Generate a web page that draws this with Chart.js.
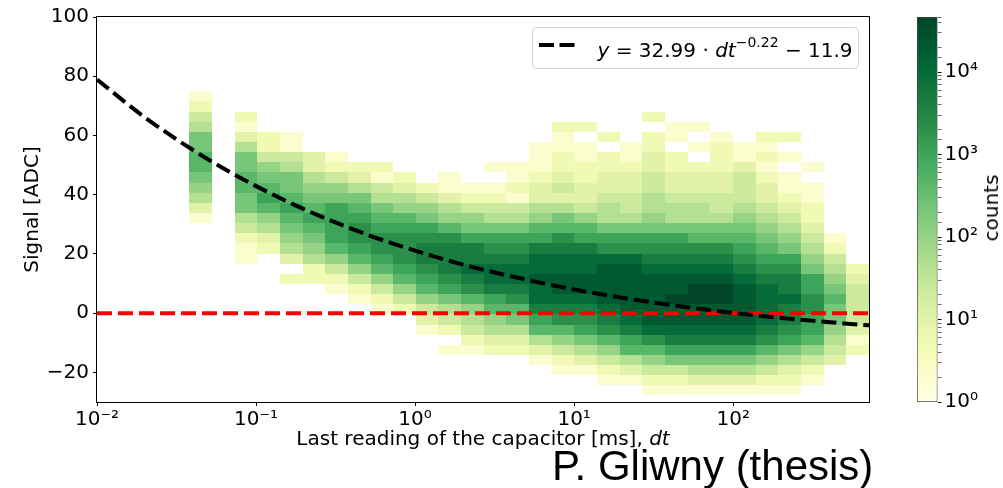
<!DOCTYPE html>
<html>
<head>
<meta charset="utf-8">
<title>Signal vs last capacitor reading</title>
<script src="https://cdn.jsdelivr.net/npm/chart.js@4.4.1/dist/chart.umd.min.js"></script>
<style>
  html, body { margin: 0; padding: 0; background: #fff; }
  #wrap { position: relative; width: 1003px; height: 488px; overflow: hidden; }
  #main { position: absolute; left: 0; top: 0; }
  #cbar { position: absolute; left: 900px; top: 0; }
  #counts { position: absolute; left: 991px; top: 208px; transform: translate(-50%, -50%) rotate(-90deg);
            font: 20px "DejaVu Sans"; white-space: nowrap; color: #000; }
  #credit { position: absolute; left: 552px; top: 445px; font: 42px/42px "Liberation Sans", Arial, sans-serif;
            white-space: nowrap; color: #000; }
</style>
</head>
<body>
<div id="wrap">
  <canvas id="main" width="1003" height="488"></canvas>
  <canvas id="cbar" width="103" height="488"></canvas>
  <div id="counts">counts</div>
  <div id="credit">P. Gliwny (thesis)</div>
</div>
<script>
// dt bin edges [ms], log spaced
const dtEdges = [0.0380, 0.0528, 0.0733, 0.1017, 0.1412, 0.1961, 0.2721, 0.3778, 0.5245, 0.7279,
  1.011, 1.403, 1.948, 2.704, 3.753, 5.211, 7.235, 10.04, 13.94, 19.35,
  26.87, 37.30, 51.78, 71.89, 99.77, 138.5, 192.3, 267.0, 370.6, 514.4, 714.2];
// signal bin edges [ADC]
const signalEdges = [-27.80, -24.38, -20.95, -17.53, -14.11, -10.68, -7.26, -3.84, -0.41, 3.01,
  6.43, 9.86, 13.28, 16.70, 20.13, 23.55, 26.97, 30.40, 33.82, 37.24,
  40.67, 44.09, 47.51, 50.94, 54.36, 57.78, 61.21, 64.63, 68.05, 71.48, 74.90];
// counts: one string per dt bin, signal bins read from the top edge (74.9) downwards.
// each char = log10(counts) in 1/3 decade steps (0-9, a-e), '.' = empty bin
const countLevels = [
  "1245778876531",
  "",
  "..213577887754211",
  "....224678986532",
  "....1145778987653.2",
  "......3356789876522",
  "......12467999986421",
  ".......235789aa986421",
  ".......2145789aa986421",
  "........235689aaa98642",
  ".........24679abba986431",
  "........113568abbba97542.1",
  ".........124679bbcba865421",
  ".......1.124579abccb986532",
  ".......11214579abccba87532",
  ".....1112335689bccdccb98531",
  "...21122343578abccddcba86421",
  "...2.1122334689bccddcba97531",
  "....2.223345579acddddcba86421",
  ".....1123344579acdddddcb98531",
  "..2.22334455679abcdddddca86421",
  "...11.223345579abcddeddcb97421",
  "...1.1.23345578abcdeeddcb97531",
  "....12223344578abcdeeddcb97531",
  ".....11344456789abcddddcb97531",
  "....2121233456789abccccba86421",
  "....2.1.112345679abbcbba975321",
  ".......1.11223456799aa9986421",
  "..............1245678776543",
  ".................234444312"
];
// fitted curve
const fitDt = [0.01, 0.02, 0.05, 0.1, 0.2, 0.5, 1, 2, 5, 10, 20, 50, 100, 200, 500, 714.2];
const fitSignal = [78.9, 66.1, 51.9, 42.9, 35.1, 26.5, 21.1, 16.4, 11.3, 8.0, 5.2, 2.1, 0.1, -1.6, -3.5, -4.1];
const zeroDt = [0.01, 714.2];
const zeroSignal = [0, 0];
const xTicks = [0.01, 0.1, 1, 10, 100];
const yTicks = [-20, 0, 20, 40, 60, 80, 100];
const countMax = 46416;

const counts = countLevels.map(col => [...col].map(ch => ch === '.' ? 0 : Math.round(Math.pow(10, parseInt(ch, 16) / 3))));

const YLGN = ['#ffffe5', '#f7fcb9', '#d9f0a3', '#addd8e', '#78c679', '#41ab5d', '#238443', '#006837', '#004529'];
const hexRgb = h => [1, 3, 5].map(i => parseInt(h.substr(i, 2), 16));

function countColor(n) {
  let t = Math.log10(n) / Math.log10(countMax);
  t = Math.max(0, Math.min(1, t)) * (YLGN.length - 1);
  const i = Math.min(Math.floor(t), YLGN.length - 2), f = t - i;
  const a = hexRgb(YLGN[i]), b = hexRgb(YLGN[i + 1]);
  return 'rgb(' + a.map((v, k) => Math.round(v + (b[k] - v) * f)).join(',') + ')';
}

const SUP = { '-': '⁻', '0': '⁰', '1': '¹', '2': '²', '3': '³', '4': '⁴', '5': '⁵' };
function pow10Label(v) {
  const l = Math.log10(v), p = Math.round(l);
  if (Math.abs(l - p) > 1e-6) return '';
  return '10' + String(p).split('').map(ch => SUP[ch]).join('');
}

Chart.defaults.font.family = '"DejaVu Sans", sans-serif';
Chart.defaults.font.size = 20;
Chart.defaults.color = '#000';

// 2d histogram cells, placed with the chart scales
const heatmap = {
  id: 'heatmap',
  beforeDatasetsDraw(chart) {
    const { ctx, chartArea: a, scales: { x, y } } = chart;
    const nY = signalEdges.length;
    ctx.save();
    ctx.beginPath();
    ctx.rect(a.left, a.top, a.width, a.height);
    ctx.clip();
    counts.forEach((col, c) => {
      const x0 = Math.round(x.getPixelForValue(dtEdges[c]));
      const x1 = Math.round(x.getPixelForValue(dtEdges[c + 1]));
      col.forEach((n, r) => {
        if (!n) return;
        const y0 = Math.round(y.getPixelForValue(signalEdges[nY - 1 - r]));
        const y1 = Math.round(y.getPixelForValue(signalEdges[nY - 2 - r]));
        ctx.fillStyle = countColor(n);
        ctx.fillRect(x0, y0, x1 - x0, y1 - y0);
      });
    });
    ctx.restore();
  }
};

const frame = {
  id: 'frame',
  afterDatasetsDraw(chart) {
    const { ctx, chartArea: a } = chart;
    ctx.save();
    ctx.strokeStyle = '#000';
    ctx.lineWidth = 1;
    ctx.strokeRect(Math.round(a.left) - 0.5, Math.round(a.top) - 0.5, Math.round(a.width) + 1, Math.round(a.height) + 1);
    ctx.restore();
  }
};

const fitLegend = {
  id: 'fitLegend',
  afterDraw(chart) {
    const { ctx, chartArea: a } = chart;
    const w = 326, h = 41;
    const bx = Math.round(a.right - 11 - w) + 0.5, by = Math.round(a.top + 10) + 0.5;
    ctx.save();
    ctx.beginPath();
    ctx.roundRect(bx, by, w, h, 4);
    ctx.fillStyle = 'rgba(255,255,255,0.8)';
    ctx.fill();
    ctx.strokeStyle = '#d4d4d4';
    ctx.lineWidth = 1;
    ctx.stroke();

    ctx.setLineDash([15, 5.5]);
    ctx.lineWidth = 4;
    ctx.strokeStyle = '#000';
    ctx.beginPath();
    ctx.moveTo(bx + 6.5, by + 17.5);
    ctx.lineTo(bx + 44, by + 17.5);
    ctx.stroke();
    ctx.setLineDash([]);

    const parts = [
      ['italic 20px "DejaVu Sans"', 'y', 0],
      ['20px "DejaVu Sans"', ' = 32.99 · ', 0],
      ['italic 20px "DejaVu Sans"', 'dt', 0],
      ['14px "DejaVu Sans"', '−0.22', -10],
      ['20px "DejaVu Sans"', ' − 11.9', 0]
    ];
    let tx = bx + 65;
    const base = by + 29;
    ctx.fillStyle = '#000';
    ctx.textBaseline = 'alphabetic';
    parts.forEach(([font, text, dy]) => {
      ctx.font = font;
      ctx.fillText(text, tx, base + dy);
      tx += ctx.measureText(text).width;
    });
    ctx.restore();
  }
};

const xTitle = {
  id: 'xTitle',
  afterDraw(chart) {
    const { ctx, chartArea: a } = chart;
    const main = 'Last reading of the capacitor [ms], ', it = 'dt';
    ctx.save();
    ctx.fillStyle = '#000';
    ctx.textBaseline = 'alphabetic';
    ctx.font = '20px "DejaVu Sans"';
    const w1 = ctx.measureText(main).width;
    ctx.font = 'italic 20px "DejaVu Sans"';
    const w2 = ctx.measureText(it).width;
    const x0 = (a.left + a.right) / 2 - (w1 + w2) / 2;
    ctx.font = '20px "DejaVu Sans"';
    ctx.fillText(main, x0, 445);
    ctx.font = 'italic 20px "DejaVu Sans"';
    ctx.fillText(it, x0 + w1, 445);
    ctx.restore();
  }
};

new Chart(document.getElementById('main'), {
  type: 'scatter',
  data: {
    datasets: [
      {
        label: 'fit',
        data: fitDt.map((d, i) => ({ x: d, y: fitSignal[i] })),
        showLine: true, borderColor: '#000', borderWidth: 4, borderDash: [15, 6],
        pointRadius: 0, cubicInterpolationMode: 'monotone'
      },
      {
        label: 'zero',
        data: zeroDt.map((d, i) => ({ x: d, y: zeroSignal[i] })),
        showLine: true, borderColor: '#ff0000', borderWidth: 4, borderDash: [15, 6], pointRadius: 0
      }
    ]
  },
  options: {
    responsive: false,
    animation: false,
    devicePixelRatio: 1,
    layout: { padding: { left: 0, right: 134, top: 17, bottom: 0 } },
    plugins: { legend: { display: false }, tooltip: { enabled: false } },
    scales: {
      x: {
        type: 'logarithmic', min: 0.01, max: 714.2,
        afterBuildTicks: s => { s.ticks = xTicks.map(v => ({ value: v })); },
        afterFit: s => { s.height = 86; },
        border: { display: false },
        grid: { drawOnChartArea: false, tickLength: 4, tickColor: '#000' },
        ticks: { autoSkip: false, maxRotation: 0, padding: 2, callback: v => pow10Label(v) }
      },
      y: {
        type: 'linear', min: -30, max: 100,
        afterBuildTicks: s => { s.ticks = yTicks.map(v => ({ value: v })); },
        afterFit: s => { s.width = 97; },
        border: { display: false },
        grid: { drawOnChartArea: false, tickLength: 4, tickColor: '#000' },
        ticks: { padding: 4, callback: v => v < 0 ? '−' + Math.abs(v) : String(v) },
        title: { display: true, text: 'Signal [ADC]', padding: { top: 21, bottom: 0 } }
      }
    }
  },
  plugins: [heatmap, frame, fitLegend, xTitle]
});

// colour bar
new Chart(document.getElementById('cbar'), {
  type: 'bar',
  data: {
    labels: ['counts'],
    datasets: [{
      data: [[1, countMax]],
      backgroundColor: c => {
        const area = c.chart.chartArea;
        if (!area) return YLGN[4];
        const g = c.chart.ctx.createLinearGradient(0, area.bottom, 0, area.top);
        YLGN.forEach((col, i) => g.addColorStop(i / (YLGN.length - 1), col));
        return g;
      },
      borderColor: '#444', borderWidth: 1, borderSkipped: false,
      barPercentage: 1, categoryPercentage: 1
    }]
  },
  options: {
    responsive: false,
    animation: false,
    devicePixelRatio: 1,
    layout: { padding: { left: 17, right: 0, top: 17, bottom: 86 } },
    plugins: { legend: { display: false }, tooltip: { enabled: false } },
    scales: {
      x: { display: false },
      y: {
        type: 'logarithmic', position: 'right', min: 1, max: countMax,
        afterFit: s => { s.width = 65.5; },
        border: { display: false },
        grid: {
          drawOnChartArea: false, tickLength: 4, tickColor: '#000',
          tickWidth: c => pow10Label(c.tick.value) ? 1 : 0.6
        },
        ticks: { autoSkip: false, padding: 3, callback: v => pow10Label(v) }
      }
    }
  }
});
</script>
</body>
</html>
